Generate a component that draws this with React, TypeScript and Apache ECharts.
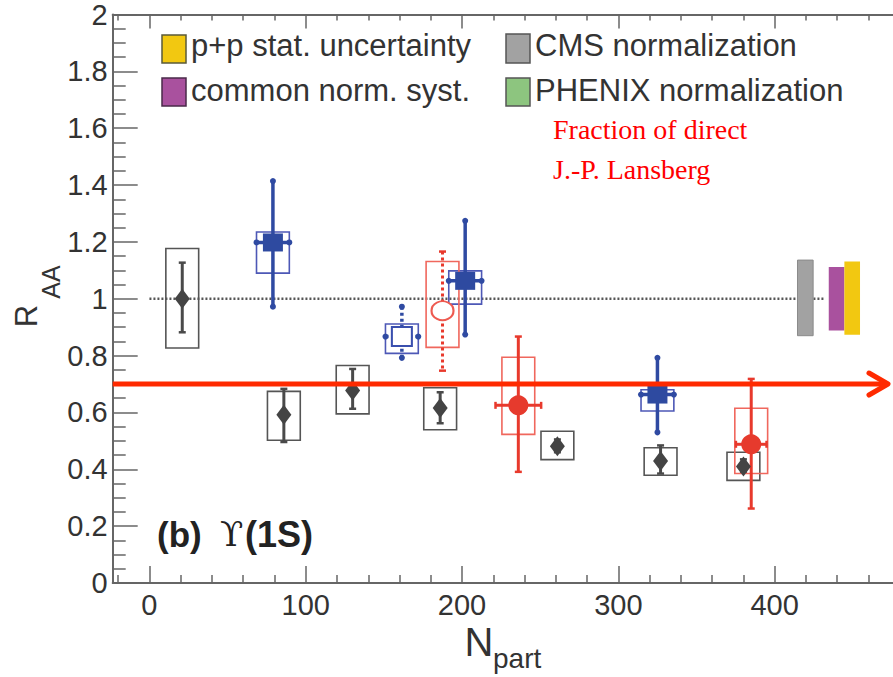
import React, { useEffect, useRef } from "react";
import * as echarts from "echarts";

// ---------- axes ----------
const X_MIN = -23.5;
const X_MAX = 475.7;
const Y_MIN = 0;
const Y_MAX = 2;
const xMajorTicks = [0, 100, 200, 300, 400];
const xMinorTicks = [-20, 20, 40, 60, 80, 120, 140, 160, 180, 220, 240, 260, 280, 320, 340, 360, 380, 420, 440, 460];
const yMajorTicks = [0, 0.2, 0.4, 0.6, 0.8, 1, 1.2, 1.4, 1.6, 1.8, 2];
const yMinorTicks = [0.05, 0.1, 0.15, 0.25, 0.3, 0.35, 0.45, 0.5, 0.55, 0.65, 0.7, 0.75, 0.85, 0.9, 0.95, 1.05, 1.1, 1.15, 1.25, 1.3, 1.35, 1.45, 1.5, 1.55, 1.65, 1.7, 1.75, 1.85, 1.9, 1.95];

// ---------- grey diamonds ----------
const cmsN = [21, 86, 130, 186, 261, 327, 380];
const cmsR = [1.0, 0.592, 0.677, 0.616, 0.481, 0.429, 0.41];
const cmsStatLo = [0.882, 0.496, 0.613, 0.562, 0.46, 0.385, 0.39];
const cmsStatHi = [1.127, 0.683, 0.753, 0.671, 0.505, 0.484, 0.435];
const cmsSysLo = [0.827, 0.502, 0.595, 0.539, 0.434, 0.379, 0.361];
const cmsSysHi = [1.177, 0.674, 0.765, 0.687, 0.534, 0.476, 0.46];

// ---------- blue squares ----------
const blueN = [79, 161.5, 202, 325];
const blueR = [1.198, 0.867, 1.063, 0.663];
const blueStatLo = [0.972, 0.792, 0.874, 0.53];
const blueStatHi = [1.414, 0.972, 1.274, 0.792];
const blueSysLo = [1.09, 0.808, 0.981, 0.605];
const blueSysHi = [1.235, 0.911, 1.098, 0.68];
const blueNErr = [10.5, 10.5, 10.5, 10.5];
const blueOpen = [0, 1, 0, 0];

// ---------- red circles ----------
const redN = [187.5, 236, 385];
const redR = [0.958, 0.625, 0.488];
const redStatLo = [0.747, 0.391, 0.262];
const redStatHi = [1.166, 0.867, 0.718];
const redSysLo = [0.829, 0.523, 0.385];
const redSysHi = [1.131, 0.794, 0.615];
const redNErr = [0, 14.6, 9.8];
const redOpen = [1, 0, 0];

// ---------- normalization bars ----------
const normN = [419.6, 439.6, 449.6];
const normLo = [0.87, 0.888, 0.873];
const normHi = [1.136, 1.112, 1.131];

// ---------- reference line / arrow ----------
const refLineN = [0, 432];
const refLineR = [1, 1];
const arrowN = [-23.5, 472.5];
const arrowR = 0.7;

// ---------- texts ----------
const legendLabels = ["p+p stat. uncertainty", "common norm. syst.", "CMS normalization", "PHENIX normalization"];
const noteLines = ["Fraction of direct", "J.-P. Lansberg"];

// ---------- styles ----------
const SANS = '"Liberation Sans", Arial, Helvetica, sans-serif';
const SERIF = '"Liberation Serif", "Times New Roman", serif';
const HALF_BOX = 10.5;
const AXIS_COLOR = "#666";
const normFill = ["#a2a2a2", "#a9519e", "#f2c811"];
const legendFill = ["#f2c811", "#a9519e", "#a2a2a2", "#8dc57f"];

function rows(n: number[], r: number[], sLo: number[], sHi: number[], bLo: number[], bHi: number[], nErr: number[], open: number[]) {
  return n.map((v, i) => [v, r[i], sLo[i], sHi[i], bLo[i], bHi[i], nErr[i], open[i]]);
}

function makeErrRender(c: { stat: string; box: string; cap: "line" | "dot"; width: number }) {
  return (_params: any, api: any) => {
    const n = api.value(0);
    const r = api.value(1);
    const sLo = api.value(2);
    const sHi = api.value(3);
    const bLo = api.value(4);
    const bHi = api.value(5);
    const nErr = api.value(6);
    const open = api.value(7);
    const p = api.coord([n, r]);
    const top = api.coord([n, sHi]);
    const bot = api.coord([n, sLo]);
    const bl = api.coord([n - HALF_BOX, bHi]);
    const br = api.coord([n + HALF_BOX, bLo]);
    const dash = open ? { lineDash: [3, 3] } : {};
    const children: any[] = [
      {
        type: "rect",
        shape: { x: bl[0], y: bl[1], width: br[0] - bl[0], height: br[1] - bl[1] },
        style: { fill: "none", stroke: c.box, lineWidth: 1.6 },
      },
      {
        type: "line",
        shape: { x1: p[0], y1: top[1], x2: p[0], y2: bot[1] },
        style: { stroke: c.stat, lineWidth: c.width, ...dash },
      },
    ];
    const capV = (x: number, y: number, horiz: boolean) => {
      if (c.cap === "dot") {
        children.push({ type: "circle", shape: { cx: x, cy: y, r: 3 }, style: { fill: c.stat } });
      } else if (horiz) {
        children.push({ type: "line", shape: { x1: x - 3.5, y1: y, x2: x + 3.5, y2: y }, style: { stroke: c.stat, lineWidth: 2.5 } });
      } else {
        children.push({ type: "line", shape: { x1: x, y1: y - 3.5, x2: x, y2: y + 3.5 }, style: { stroke: c.stat, lineWidth: 2.5 } });
      }
    };
    capV(p[0], top[1], true);
    capV(p[0], bot[1], true);
    if (nErr > 0) {
      const l = api.coord([n - nErr, r]);
      const rr = api.coord([n + nErr, r]);
      children.push({
        type: "line",
        shape: { x1: l[0], y1: p[1], x2: rr[0], y2: p[1] },
        style: { stroke: c.stat, lineWidth: c.width, ...dash },
      });
      capV(l[0], p[1], false);
      capV(rr[0], p[1], false);
    }
    return { type: "group", children };
  };
}

export default function App() {
  const ref = useRef<HTMLDivElement>(null);
  useEffect(() => {
    if (!ref.current) return;
    const chart = echarts.init(ref.current, null, { renderer: "svg" });

    const xBase = { type: "value", min: X_MIN, max: X_MAX, offset: 0, splitLine: { show: false } };
    const yBase = { type: "value", min: Y_MIN, max: Y_MAX, offset: 0, splitLine: { show: false } };
    const tickStyle = { color: AXIS_COLOR, width: 1.5 };

    const cmsRows = rows(cmsN, cmsR, cmsStatLo, cmsStatHi, cmsSysLo, cmsSysHi, cmsN.map(() => 0), cmsN.map(() => 0));
    const blueRows = rows(blueN, blueR, blueStatLo, blueStatHi, blueSysLo, blueSysHi, blueNErr, blueOpen);
    const redRows = rows(redN, redR, redStatLo, redStatHi, redSysLo, redSysHi, redNErr, redOpen);

    const option: any = {
      animation: false,
      backgroundColor: "#fff",
      grid: { left: 112.7, right: 0, top: 13.5, bottom: 94, containLabel: false },
      xAxis: [
        {
          ...xBase,
          position: "bottom",
          axisLine: { show: true, onZero: false, lineStyle: { color: AXIS_COLOR, width: 2 } },
          axisTick: { show: true, inside: true, length: 17, customValues: xMajorTicks, lineStyle: tickStyle },
          axisLabel: { show: true, customValues: xMajorTicks, fontSize: 29, color: "#333", fontFamily: SANS, margin: 7 },
        },
        {
          ...xBase,
          position: "bottom",
          axisLine: { show: false, onZero: false },
          axisTick: { show: true, inside: true, length: 8, customValues: xMinorTicks, lineStyle: tickStyle },
          axisLabel: { show: false },
        },
        {
          ...xBase,
          position: "top",
          axisLine: { show: true, onZero: false, lineStyle: { color: AXIS_COLOR, width: 2 } },
          axisTick: { show: true, inside: true, length: 14, customValues: xMajorTicks, lineStyle: tickStyle },
          axisLabel: { show: false },
        },
        {
          ...xBase,
          position: "top",
          axisLine: { show: false, onZero: false },
          axisTick: { show: true, inside: true, length: 6, customValues: xMinorTicks, lineStyle: tickStyle },
          axisLabel: { show: false },
        },
      ],
      yAxis: [
        {
          ...yBase,
          position: "left",
          axisLine: { show: true, onZero: false, lineStyle: { color: AXIS_COLOR, width: 2 } },
          axisTick: { show: true, inside: true, length: 25, customValues: yMajorTicks, lineStyle: tickStyle },
          axisLabel: {
            show: true,
            customValues: yMajorTicks,
            fontSize: 29,
            color: "#333",
            fontFamily: SANS,
            margin: 5,
            formatter: (v: number) => String(Math.round(v * 10) / 10),
          },
        },
        {
          ...yBase,
          position: "left",
          axisLine: { show: false, onZero: false },
          axisTick: { show: true, inside: true, length: 13, customValues: yMinorTicks, lineStyle: tickStyle },
          axisLabel: { show: false },
        },
      ],
      series: [
        {
          type: "line",
          data: refLineN.map((n, i) => [n, refLineR[i]]),
          showSymbol: false,
          symbol: "none",
          lineStyle: { color: "#555", width: 2.5, type: [2, 2] },
          z: 1,
        },
        {
          type: "custom",
          data: normN.map((n, i) => [n, normLo[i], normHi[i], i]),
          encode: { x: 0, y: [1, 2] },
          renderItem: (_p: any, api: any) => {
            const n = api.value(0);
            const a = api.coord([n - 5, api.value(2)]);
            const b = api.coord([n + 5, api.value(1)]);
            const idx = api.value(3);
            return {
              type: "rect",
              shape: { x: a[0], y: a[1], width: b[0] - a[0], height: b[1] - a[1] },
              style: { fill: normFill[idx], stroke: idx === 0 ? "#8a8a8a" : "none", lineWidth: 1 },
            };
          },
          z: 2,
        },
        {
          type: "custom",
          data: cmsRows,
          encode: { x: 0, y: 1 },
          renderItem: makeErrRender({ stat: "#4a4a4a", box: "#555", cap: "line", width: 3 }),
          z: 3,
        },
        {
          type: "custom",
          data: blueRows,
          encode: { x: 0, y: 1 },
          renderItem: makeErrRender({ stat: "#2f4aa2", box: "#4d58b6", cap: "dot", width: 3.5 }),
          z: 3,
        },
        {
          type: "custom",
          data: redRows,
          encode: { x: 0, y: 1 },
          renderItem: makeErrRender({ stat: "#e8392c", box: "#f0675d", cap: "line", width: 3 }),
          z: 3,
        },
        {
          type: "scatter",
          data: cmsN.map((n, i) => [n, cmsR[i]]),
          symbol: "diamond",
          symbolSize: [15, 20],
          itemStyle: { color: "#444", opacity: 1 },
          z: 5,
        },
        {
          type: "scatter",
          data: blueN.map((n, i) => [n, blueR[i]]).filter((_, i) => !blueOpen[i]),
          symbol: "rect",
          symbolSize: [20, 18],
          itemStyle: { color: "#2e4aa0", opacity: 1 },
          z: 5,
        },
        {
          type: "scatter",
          data: blueN.map((n, i) => [n, blueR[i]]).filter((_, i) => blueOpen[i]),
          symbol: "rect",
          symbolSize: [20, 19],
          itemStyle: { color: "#fff", borderColor: "#3a4fae", borderWidth: 2, opacity: 1 },
          z: 5,
        },
        {
          type: "scatter",
          data: redN.map((n, i) => [n, redR[i]]).filter((_, i) => !redOpen[i]),
          symbol: "circle",
          symbolSize: 20,
          itemStyle: { color: "#e63a2d", opacity: 1 },
          z: 5,
        },
        {
          type: "scatter",
          data: redN.map((n, i) => [n, redR[i]]).filter((_, i) => redOpen[i]),
          symbol: "circle",
          symbolSize: [22, 19],
          itemStyle: { color: "#fff", borderColor: "#ee5a50", borderWidth: 2, opacity: 1 },
          z: 5,
        },
        {
          type: "custom",
          data: [[arrowN[0], arrowN[1], arrowR]],
          encode: { x: [0, 1], y: 2 },
          renderItem: (_p: any, api: any) => {
            const a = api.coord([api.value(0), api.value(2)]);
            const b = api.coord([api.value(1), api.value(2)]);
            return {
              type: "group",
              children: [
                { type: "line", shape: { x1: a[0], y1: a[1], x2: b[0] - 2, y2: b[1] }, style: { stroke: "#ff2a00", lineWidth: 5 } },
                {
                  type: "polyline",
                  shape: { points: [[b[0] - 19, b[1] - 11], [b[0], b[1]], [b[0] - 19, b[1] + 11]] },
                  style: { stroke: "#ff2a00", lineWidth: 5, fill: "none", lineJoin: "round", lineCap: "round" },
                },
              ],
            };
          },
          z: 6,
        },
      ],
      graphic: [
        // legend boxes
        { type: "rect", shape: { x: 162, y: 35, width: 24, height: 28 }, style: { fill: legendFill[0], stroke: "#5a5a3a", lineWidth: 1.5 } },
        { type: "rect", shape: { x: 162, y: 78, width: 24, height: 28 }, style: { fill: legendFill[1], stroke: "#4a2a4a", lineWidth: 1.5 } },
        { type: "rect", shape: { x: 506, y: 34, width: 24, height: 29 }, style: { fill: legendFill[2], stroke: "#555", lineWidth: 1.5 } },
        { type: "rect", shape: { x: 506, y: 78, width: 24, height: 28 }, style: { fill: legendFill[3], stroke: "#555", lineWidth: 1.5 } },
        { type: "text", x: 191, y: 45, style: { text: legendLabels[0], fontSize: 31, fontFamily: SANS, fill: "#333", align: "left", verticalAlign: "middle" } },
        { type: "text", x: 191, y: 90, style: { text: legendLabels[1], fontSize: 31, fontFamily: SANS, fill: "#333", align: "left", verticalAlign: "middle" } },
        { type: "text", x: 535, y: 45, style: { text: legendLabels[2], fontSize: 31, fontFamily: SANS, fill: "#333", align: "left", verticalAlign: "middle" } },
        { type: "text", x: 535, y: 90, style: { text: legendLabels[3], fontSize: 31, fontFamily: SANS, fill: "#333", align: "left", verticalAlign: "middle" } },
        // red note
        { type: "text", x: 553, y: 129, style: { text: noteLines[0], fontSize: 28, fontFamily: SERIF, fill: "#ff0000", align: "left", verticalAlign: "middle" } },
        { type: "text", x: 553, y: 169, style: { text: noteLines[1], fontSize: 28, fontFamily: SERIF, fill: "#ff0000", align: "left", verticalAlign: "middle" } },
        // panel label
        { type: "text", x: 157, y: 534, style: { text: "(b)", fontSize: 35, fontWeight: "bold", fontFamily: SANS, fill: "#222", align: "left", verticalAlign: "middle" } },
        { type: "text", x: 220, y: 534, style: { text: "ϒ", fontSize: 34, fontFamily: '"DejaVu Serif", "Liberation Serif", serif', fill: "#222", align: "left", verticalAlign: "middle" } },
        { type: "text", x: 245, y: 534, style: { text: "(1S)", fontSize: 36, fontWeight: "bold", fontFamily: SANS, fill: "#222", align: "left", verticalAlign: "middle" } },
        // axis titles
        { type: "text", x: 26, y: 316, rotation: Math.PI / 2, style: { text: "R", fontSize: 31, fontFamily: SANS, fill: "#333", align: "center", verticalAlign: "middle" } },
        { type: "text", x: 51, y: 282, rotation: Math.PI / 2, style: { text: "AA", fontSize: 25, fontFamily: SANS, fill: "#333", align: "center", verticalAlign: "middle" } },
        { type: "text", x: 479, y: 642, style: { text: "N", fontSize: 40, fontFamily: SANS, fill: "#333", align: "center", verticalAlign: "middle" } },
        { type: "text", x: 493, y: 658, style: { text: "part", fontSize: 28, fontFamily: SANS, fill: "#333", align: "left", verticalAlign: "middle" } },
      ],
    };
    chart.setOption(option);
    return () => chart.dispose();
  }, []);
  return <div ref={ref} style={{ position: "fixed", left: 0, top: 0, width: 893, height: 677, background: "#fff" }} />;
}
